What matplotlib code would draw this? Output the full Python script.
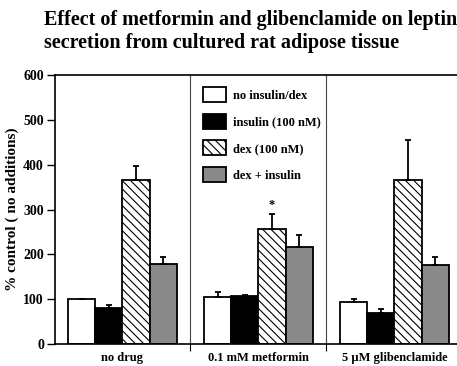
import matplotlib
matplotlib.use("Agg")
import matplotlib.pyplot as plt
import numpy as np

plt.rcParams['font.family'] = ['Liberation Serif', 'DejaVu Serif']
plt.rcParams['font.weight'] = 'bold'
plt.rcParams['hatch.linewidth'] = 0.8

groups = ["no drug", "0.1 mM metformin", "5 \u00b5M glibenclamide"]
series = ["no insulin/dex", "insulin (100 nM)", "dex (100 nM)", "dex + insulin"]
values = {
    "no insulin/dex":   [100, 104, 94],
    "insulin (100 nM)": [81, 106, 69],
    "dex (100 nM)":     [366, 257, 366],
    "dex + insulin":    [178, 217, 177],
}
errors = {
    "no insulin/dex":   [0, 13, 7],
    "insulin (100 nM)": [5, 3, 10],
    "dex (100 nM)":     [31, 32, 89],
    "dex + insulin":    [15, 26, 18],
}
yticks = [0, 100, 200, 300, 400, 500, 600]

faces = ["white", "black", "white", "#8a8a8a"]
hatches = [None, None, "\\\\\\\\", None]

fig = plt.figure(figsize=(4.57, 3.66), dpi=100)
ax = fig.add_axes([55/457, 1-344/366, 1-55/457, (344-75)/366])

x = np.arange(len(groups))
w = 0.199
for i, s in enumerate(series):
    off = (i - 1.5) * w
    ax.bar(x + off, values[s], width=w, color=faces[i], edgecolor="black",
           linewidth=1.3, hatch=hatches[i], label=s, zorder=2)
    ax.errorbar(x + off, values[s], yerr=[np.zeros(3), errors[s]], fmt="none",
                ecolor="black", elinewidth=1.3, capsize=2, capthick=1.3, zorder=3)

# significance star on metformin dex bar
ax.text(1 + 0.5 * w, values["dex (100 nM)"][1] + errors["dex (100 nM)"][1] + 8, "*",
        ha="center", va="bottom", fontsize=9)

ax.set_xlim(-0.496, 2.46)
ax.set_ylim(0, 600)
ax.set_yticks(yticks)
ax.set_yticklabels([str(t) for t in yticks], fontsize=10, fontweight="bold")
ax.tick_params(axis="y", direction="out", length=6, width=1, pad=2)
ax.set_xticks(x)
ax.set_xticklabels(groups, fontsize=9, fontweight="bold")
ax.tick_params(axis="x", which="major", length=0, pad=6)
ax.set_xticks([0.5, 1.5], minor=True)
ax.tick_params(axis="x", which="minor", direction="out", length=5, width=0.8)
for d in [0.5, 1.5]:
    ax.axvline(d, color="#444444", linewidth=0.8, zorder=1)

ax.spines["right"].set_visible(False)
for sp in ["left", "bottom", "top"]:
    ax.spines[sp].set_linewidth(1.2)

ax.set_ylabel("% control ( no additions)", fontsize=11, fontweight="bold", labelpad=3)

leg = ax.legend(loc="upper left", bbox_to_anchor=(203/457, 1-87/366),
                bbox_transform=fig.transFigure, frameon=False, fontsize=9,
                handlelength=1.85, handleheight=1.45, handletextpad=0.55,
                labelspacing=0.95, borderpad=0, borderaxespad=0)

fig.text(44/457, 1-10/366, "Effect of metformin and glibenclamide on leptin\nsecretion from cultured rat adipose tissue",
         ha="left", va="top", fontsize=14.5, fontweight="bold", linespacing=1.2)

fig.savefig("out.png", dpi=100)
